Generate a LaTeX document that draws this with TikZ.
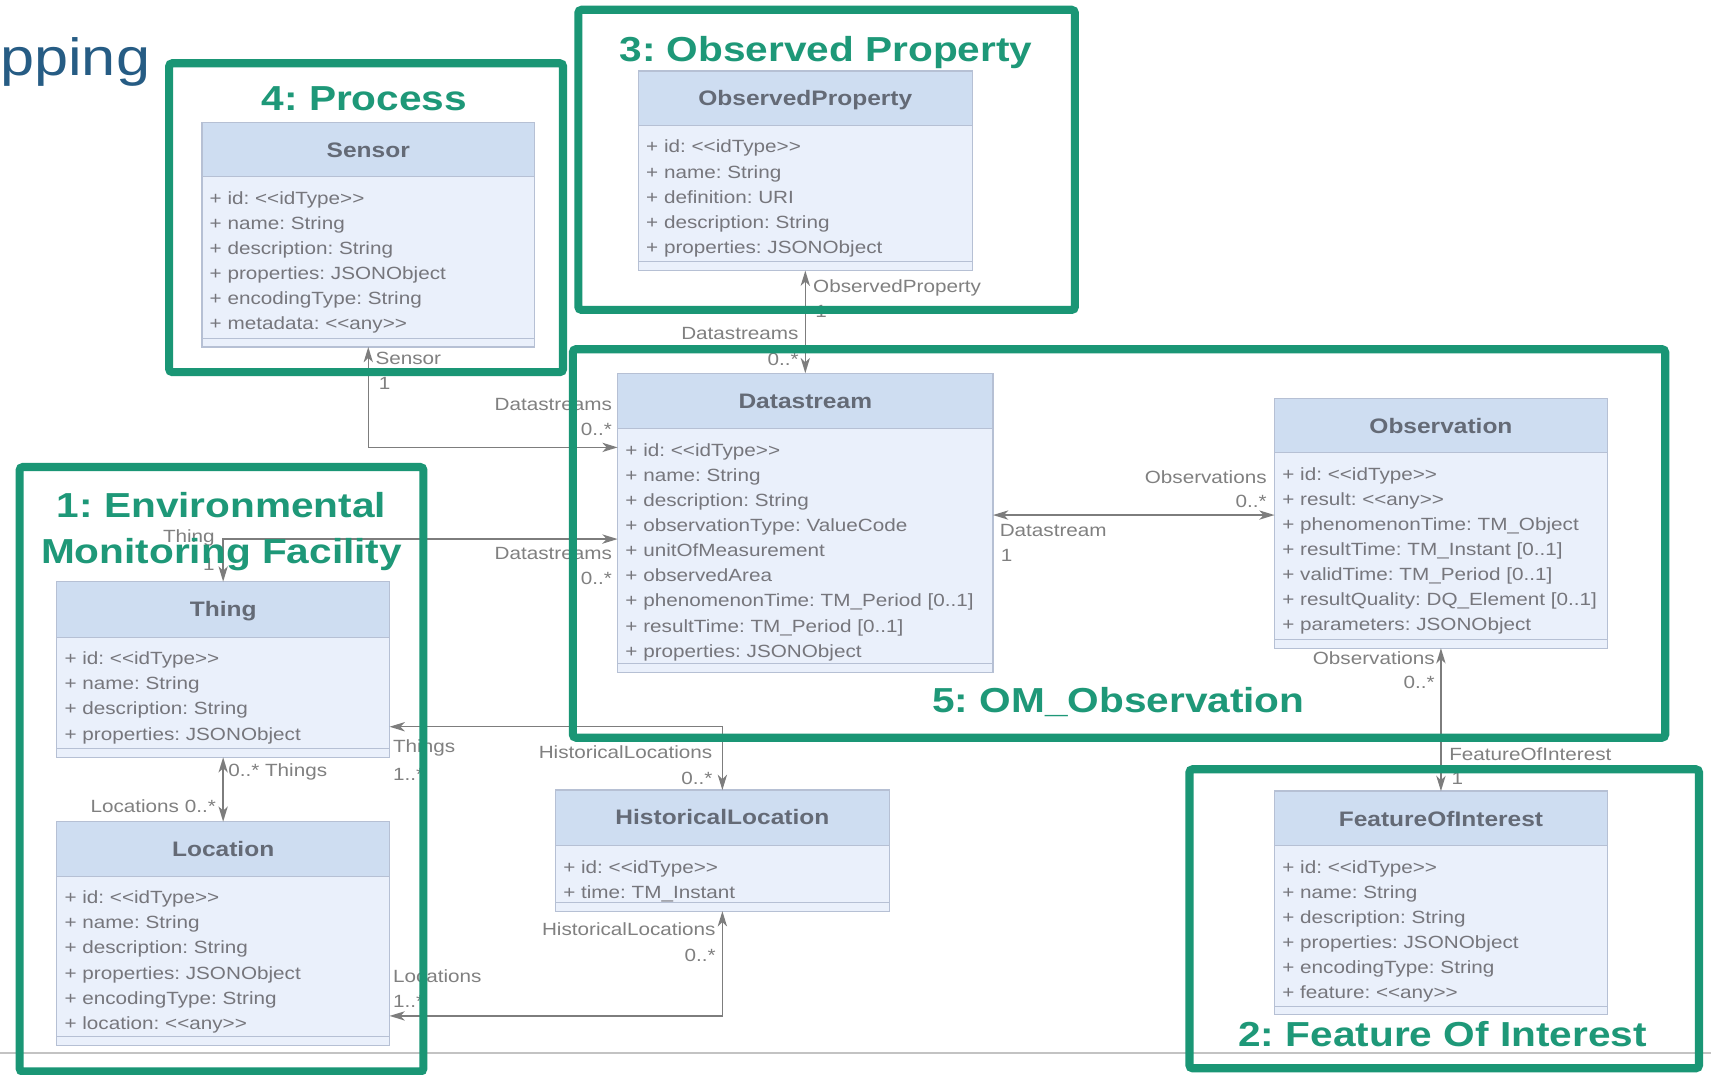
\documentclass[tikz,border=0pt]{standalone}
\usepackage{fontspec}
\setmainfont{Liberation Sans}
\newfontfamily\wsans[FakeStretch=1.17]{Liberation Sans}
\usetikzlibrary{arrows.meta,fit}
\frenchspacing
\definecolor{frameg}{RGB}{26,150,117}
\definecolor{titleg}{RGB}{30,152,120}
\definecolor{headfill}{RGB}{206,221,241}
\definecolor{bodyfill}{RGB}{234,240,251}
\definecolor{clsborder}{RGB}{182,192,212}
\definecolor{headtext}{RGB}{100,106,118}
\definecolor{attrtext}{RGB}{118,118,124}
\definecolor{conncol}{RGB}{125,125,125}
\definecolor{labcol}{RGB}{128,128,128}
\definecolor{slideblue}{RGB}{38,92,132}
\definecolor{footcol}{RGB}{195,195,195}
\newcommand\lab{<\kern0pt<}
\newcommand\rab{>\kern0pt>}
% #1 name, #2 x1, #3 y1, #4 x2, #5 y2, #6 header bottom, #7 title, #8 attributes
\newcommand\umlclass[8]{%
  \fill[bodyfill] (#2,#3) rectangle (#4,#5);
  \fill[headfill] (#2,#3) rectangle (#4,#6);
  \draw[clsline] (#2,#6) -- (#4,#6);
  \draw[clsline] (#2,#5-8) -- (#4,#5-8);
  \node[clsframe, fit={(#2,#3) (#4,#5)}] (#1) {};
  \node[headlabel] (#1-title) at ({(#2+#4)/2},#3+32) {#7};
  \node[attrlist] (#1-attrs) at (#2+7,#6+12) {\rule{0pt}{13pt}#8};
}
\begin{document}
\begin{tikzpicture}[x=1pt,y=-1pt,
  clsline/.style={draw=clsborder, line width=1pt},
  clsframe/.style={draw=clsborder, line width=1.2pt, inner sep=0pt, outer sep=0pt},
  headlabel/.style={anchor=base, inner sep=0pt, text=headtext, font=\wsans\bfseries\fontsize{19.2}{22}\selectfont},
  attrlist/.style={anchor=north west, inner sep=0pt, align=left, text=attrtext, font=\wsans\fontsize{16.2}{23}\selectfont},
  conn/.style={draw=conncol, line width=1.3pt, {Stealth[length=14pt,width=8.5pt,inset=4pt]}-{Stealth[length=14pt,width=8.5pt,inset=4pt]}},
  lbl/.style={inner sep=0pt, text=labcol, font=\wsans\fontsize{16.2}{20}\selectfont},
  lw/.style={lbl, anchor=base west},
  le/.style={lbl, anchor=base east},
  grptitle/.style={anchor=base, inner sep=0pt, text=titleg, font=\wsans\bfseries\fontsize{31.8}{36}\selectfont},
  grpframe/.style={draw=frameg, line width=7.5pt, rounded corners=3pt}
]
\useasboundingbox (0,0) rectangle (1568,985);
\fill[white] (0,0) rectangle (1568,985);

% slide remnants
\draw[footcol, line width=1.5pt] (0,965) -- (1568,965);
\node[anchor=base west, inner sep=0pt, text=slideblue, font=\wsans\fontsize{48}{50}\selectfont] (slidetitle) at (0,69) {pping};

% classes
\umlclass{sensor}{185}{112}{490}{318}{162}{Sensor}{%
+ id: \lab idType\rab\\+ name: String\\+ description: String\\+ properties: JSONObject\\+ encodingType: String\\+ metadata: \lab any\rab}
\umlclass{obsprop}{585}{65}{891}{248}{115}{ObservedProperty}{%
+ id: \lab idType\rab\\+ name: String\\+ definition: URI\\+ description: String\\+ properties: JSONObject}
\umlclass{datastream}{566}{342}{910}{616}{393}{Datastream}{%
+ id: \lab idType\rab\\+ name: String\\+ description: String\\+ observationType: ValueCode\\+ unitOfMeasurement\\+ observedArea\\+ phenomenonTime: TM\_Period [0..1]\\+ resultTime: TM\_Period [0..1]\\+ properties: JSONObject}
\umlclass{observation}{1168}{365}{1473}{594}{415}{Observation}{%
+ id: \lab idType\rab\\+ result: \lab any\rab\\+ phenomenonTime: TM\_Object\\+ resultTime: TM\_Instant [0..1]\\+ validTime: TM\_Period [0..1]\\+ resultQuality: DQ\_Element [0..1]\\+ parameters: JSONObject}
\umlclass{thing}{52}{533}{357}{694}{584}{Thing}{%
+ id: \lab idType\rab\\+ name: String\\+ description: String\\+ properties: JSONObject}
\umlclass{location}{52}{753}{357}{958}{803}{Location}{%
+ id: \lab idType\rab\\+ name: String\\+ description: String\\+ properties: JSONObject\\+ encodingType: String\\+ location: \lab any\rab}
\umlclass{histloc}{509}{724}{815}{835}{775}{HistoricalLocation}{%
+ id: \lab idType\rab\\+ time: TM\_Instant}
\umlclass{foi}{1168}{725}{1473}{930}{775}{FeatureOfInterest}{%
+ id: \lab idType\rab\\+ name: String\\+ description: String\\+ properties: JSONObject\\+ encodingType: String\\+ feature: \lab any\rab}

% helper levels
\coordinate (ySensor) at (0,410);
\coordinate (yThing) at (0,494);
\coordinate (yObs) at (0,472);
\coordinate (yThingHL) at (0,666);
\coordinate (yLocHL) at (0,931);

% connectors
\draw[conn] (sensor.south) |- (datastream.west |- ySensor);
\draw[conn] (thing.north) |- (datastream.west |- yThing);
\draw[conn] (obsprop.south) -- (datastream.north);
\draw[conn] (datastream.east |- yObs) -- (observation.west |- yObs);
\draw[conn] (observation.south) -- (foi.north);
\draw[conn] (thing.east |- yThingHL) -| (histloc.north);
\draw[conn] (location.east |- yLocHL) -| (histloc.south);
\draw[conn] (thing.south) -- (location.north);

% labels
\node[lw] (l1a) at (344,334) {Sensor};
\node[lw] (l1b) at (347,357) {1};
\node[le] (l1c) at (561,376) {Datastreams};
\node[le] (l1d) at (561,399) {0..*};
\node[le] (l2a) at (197,497) {Thing};
\node[le] (l2b) at (197,523) {1};
\node[le] (l2c) at (561,513) {Datastreams};
\node[le] (l2d) at (561,536) {0..*};
\node[lw] (l3a) at (745,268) {ObservedProperty};
\node[lw] (l3b) at (747,291) {1};
\node[le] (l3c) at (732,311) {Datastreams};
\node[le] (l3d) at (732,335) {0..*};
\node[le] (l4a) at (1161,443) {Observations};
\node[le] (l4b) at (1161,465) {0..*};
\node[lw] (l4c) at (916,492) {Datastream};
\node[lw] (l4d) at (917,515) {1};
\node[le] (l5a) at (1315,609) {Observations};
\node[le] (l5b) at (1315,631) {0..*};
\node[lw] (l5c) at (1328,697) {FeatureOfInterest};
\node[lw] (l5d) at (1330,719) {1};
\node[lw] (l6a) at (360,690) {Things};
\node[lw] (l6b) at (360,715) {1..*};
\node[le] (l6c) at (653,695) {HistoricalLocations};
\node[le] (l6d) at (653,719) {0..*};
\node[le] (l7a) at (656,857) {HistoricalLocations};
\node[le] (l7b) at (656,881) {0..*};
\node[lw] (l7c) at (360,900) {Locations};
\node[lw] (l7d) at (360,923) {1..*};
\node[lw] (l8a) at (209,712) {0..* Things};
\node[le] (l8b) at (198,745) {Locations 0..*};

% group titles
\node[grptitle] (t4) at (334,101) {4: Process};
\node[grptitle] (t3) at (757,56) {3: Observed Property};
\node[grptitle] (t5) at (1025,653) {5: OM\_Observation};
\node[grptitle] (t1a) at (203,474) {1: Environmental};
\node[grptitle] (t1b) at (203,516) {Monitoring Facility};
\node[grptitle] (t2) at (1322,959) {2: Feature Of Interest};

% group frames
\draw[grpframe] (155,58) rectangle (516,341);
\draw[grpframe] (530,9) rectangle (985,284);
\draw[grpframe] (525,320) rectangle (1526,676);
\draw[grpframe] (18,428) rectangle (388,982);
\draw[grpframe] (1090,705) rectangle (1557,979);
\end{tikzpicture}
\end{document}
